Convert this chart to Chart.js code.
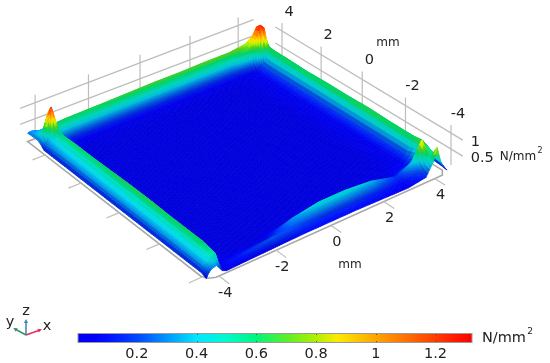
<!DOCTYPE html>
<html>
<head>
<meta charset="utf-8">
<script src="https://cdn.jsdelivr.net/npm/chart.js@4"></script>
<style>
  html, body { margin: 0; padding: 0; background: #fff; }
  #wrap { position: relative; width: 550px; height: 363px; overflow: hidden; filter: blur(0.35px); }
  canvas { position: absolute; left: 0; }
  #surfaceChart { top: 0; }
  #barChart { top: 333px; }
</style>
</head>
<body>
<div id="wrap">
  <canvas id="surfaceChart" width="550" height="363"></canvas>
  <canvas id="barChart" width="550" height="30"></canvas>
</div>
<script>
// axis ticks
const xTicks = [-4, -2, 0, 2, 4];
const yTicks = [-4, -2, 0, 2, 4];
const zTicks = [0.5, 1];
const barTicks = [0.2, 0.4, 0.6, 0.8, 1, 1.2];
const barRange = [0.003, 1.322];

// grid nodes of the surface, mm
const gridX = [-4.4, -4.35, -4.25, -4.15, -4.05, -3.95, -3.85, -3.7, -3.4, -2, -1, 0, 1, 2, 3, 3.7, 4, 4.15, 4.3, 4.42, 4.55];
const gridY = [-4.2, -4, -3.7, -3.4, -3, -2.6, -2, -1, 0, 1, 2, 3, 3.6, 3.9, 4.05, 4.2, 4.4, 4.55, 5];

// contact pressure N/mm2, one row per gridY value
const stress = [
  [.05, .16, .26, .30, .32, .20, .08, .02, .03, .06, .08, .08, .08, .06, .04, .12, .50, .90, .40, .20, .05],
  [.12, .30, .38, .44, .50, .56, .20, .05, .10, .25, .18, .14, .14, .12, .06, .20, .55, .60, .40, .30, .08],
  [.12, .30, .38, .44, .50, .60, .25, .05, .02, .02, .32, .46, .46, .38, .16, .45, .95, .60, .60, .45, .10],
  [.12, .30, .38, .44, .52, .64, .30, .05, .01, .01, .01, .02, .02, .02, .03, .10, .30, .45, .72, .55, .10],
  [.12, .30, .38, .44, .52, .64, .30, .06, .01, .01, .01, .01, .01, .01, .02, .04, .18, .38, .68, .55, .10],
  [.12, .30, .38, .44, .52, .64, .30, .06, .01, .01, .01, .01, .01, .01, .01, .04, .18, .38, .68, .55, .10],
  [.12, .30, .38, .44, .52, .64, .30, .06, .01, .01, .01, .01, .01, .01, .01, .04, .18, .38, .68, .55, .10],
  [.12, .30, .38, .44, .52, .66, .30, .06, .01, .01, .01, .01, .01, .01, .01, .04, .18, .38, .70, .55, .10],
  [.12, .30, .38, .44, .52, .66, .30, .06, .01, .01, .01, .01, .01, .01, .01, .04, .18, .38, .68, .55, .10],
  [.12, .30, .38, .44, .52, .64, .30, .06, .01, .01, .01, .01, .01, .01, .01, .04, .18, .38, .68, .55, .10],
  [.12, .30, .38, .44, .52, .62, .30, .06, .01, .01, .01, .01, .01, .01, .01, .04, .18, .38, .66, .55, .10],
  [.12, .30, .38, .44, .52, .62, .30, .06, .01, .01, .01, .01, .01, .01, .01, .04, .18, .38, .68, .55, .10],
  [.12, .28, .36, .42, .50, .60, .30, .06, .01, .01, .01, .01, .01, .01, .01, .04, .18, .38, .68, .55, .10],
  [.12, .26, .34, .40, .48, .62, .30, .06, .03, .03, .03, .03, .03, .03, .03, .05, .20, .40, .70, .55, .10],
  [.12, .24, .34, .44, .80, .70, .32, .14, .12, .12, .12, .12, .12, .12, .12, .20, .60, 1.00, .78, .58, .10],
  [.20, .30, .55, .90, 1.30, 1.00, .70, .36, .32, .32, .32, .32, .32, .32, .34, .70, 1.00, 1.32, 1.20, .60, .10],
  [.28, .38, .50, .70, 1.00, .85, .66, .62, .64, .66, .68, .70, .70, .72, .72, .80, 1.00, 1.20, 1.10, .60, .12],
  [.28, .34, .38, .40, .50, .50, .48, .48, .48, .50, .50, .50, .50, .50, .50, .52, .60, .70, .65, .45, .10],
  [.26, .28, .28, .26, .20, .12, .10, .10, .10, .10, .10, .10, .10, .10, .10, .12, .12, .15, .15, .12, .05],
];

// colour table: value, r, g, b
const colourStops = [
  [0, 0, 0, 215], [0.05, 0, 0, 245], [0.1, 0, 15, 255], [0.2, 0, 70, 255], [0.3, 0, 150, 255], [0.4, 0, 230, 255],
  [0.5, 0, 250, 205], [0.6, 0, 245, 125], [0.7, 90, 240, 40], [0.8, 175, 240, 0], [0.87, 250, 235, 0],
  [1, 255, 165, 0], [1.2, 255, 60, 0], [1.32, 255, 0, 0],
];

// view: floor plane fitted on four known points
const floorX = [-4.4, 4.9];
const floorY = [-4, 4];
const floorCorners = [[202, 277], [451, 165], [282, 63], [45, 155]];
const zPixels = 32;
const wallX = 4.9, wallY = 5.2;
const wallStartX = -4.55, wallStartY = -4.5;
const wallEndX = 4.65, wallEndY = 4.35;
const frameX = [-4.4, 4.5], frameY = [-4.25, 5];
const FONT = '"DejaVu Sans", sans-serif';
const INK = "#222";

function makeHomography(p) {
  const [p0, p1, p2, p3] = p;
  const dx1 = p1[0] - p2[0], dx2 = p3[0] - p2[0], sx = p0[0] - p1[0] + p2[0] - p3[0];
  const dy1 = p1[1] - p2[1], dy2 = p3[1] - p2[1], sy = p0[1] - p1[1] + p2[1] - p3[1];
  const den = dx1 * dy2 - dx2 * dy1;
  const g = (sx * dy2 - dx2 * sy) / den;
  const h = (dx1 * sy - sx * dy1) / den;
  return {
    a: p1[0] - p0[0] + g * p1[0], b: p3[0] - p0[0] + h * p3[0], c: p0[0],
    d: p1[1] - p0[1] + g * p1[1], e: p3[1] - p0[1] + h * p3[1], f: p0[1],
    g, h,
  };
}
const H = makeHomography(floorCorners);

function project(x, y, z) {
  const u = (x - floorX[0]) / (floorX[1] - floorX[0]);
  const v = (y - floorY[0]) / (floorY[1] - floorY[0]);
  const w = H.g * u + H.h * v + 1;
  return {
    x: (H.a * u + H.b * v + H.c) / w,
    y: (H.d * u + H.e * v + H.f) / w - z * zPixels,
  };
}

function colourFor(v, shade) {
  let i = 0;
  while (i < colourStops.length - 2 && v > colourStops[i + 1][0]) i++;
  const a = colourStops[i], b = colourStops[i + 1];
  const t = Math.max(0, Math.min(1, (v - a[0]) / (b[0] - a[0])));
  const c = [1, 2, 3].map((k) => Math.round((a[k] + (b[k] - a[k]) * t) * shade));
  return `rgb(${c[0]},${c[1]},${c[2]})`;
}

function lineSet(points, colour, width) {
  return { data: points, borderColor: colour, borderWidth: width, pointRadius: 0, showLine: true, fill: false };
}

const GRID = "#bdbdbd";
const datasets = [];

// surface nodes, painted by the plugin
const surfaceNodes = [];
gridY.forEach((y, r) => gridX.forEach((x, c) => surfaceNodes.push(project(x, y, stress[r][c]))));
datasets.push({ label: "surface", data: surfaceNodes, pointRadius: 0, showLine: false });

// wall lines
zTicks.forEach((z) => {
  datasets.push(lineSet([project(wallStartX, wallY, z), project(wallEndX, wallY, z)], GRID, 1.3));
  datasets.push(lineSet([project(wallX, wallEndY, z), project(wallX, wallStartY, z)], GRID, 1.3));
});
xTicks.forEach((x) => datasets.push(lineSet([project(x, wallY, 0), project(x, wallY, 1.25)], GRID, 1.2)));
yTicks.forEach((y) => datasets.push(lineSet([project(wallX, y, 0), project(wallX, y, 1.25)], GRID, 1.2)));

// floor ticks
xTicks.forEach((x) => datasets.push(lineSet([project(x, frameY[0], 0), project(x, frameY[0] - 0.45, 0)], GRID, 1.2)));
yTicks.forEach((y) => datasets.push(lineSet([project(frameX[0], y, 0), project(frameX[0] - 0.45, y, 0)], GRID, 1.2)));

// floor frame
datasets.push(lineSet([
  project(frameX[0] + 0.3, frameY[0], 0), project(frameX[1] - 0.2, frameY[0], 0), project(frameX[1], frameY[0] + 0.2, 0),
  project(frameX[1], frameY[1], 0), project(frameX[0], frameY[1], 0), project(frameX[0], frameY[0] + 0.3, 0),
  project(frameX[0] + 0.1, frameY[0] + 0.1, 0), project(frameX[0] + 0.3, frameY[0], 0),
], "#a8a8a8", 1.6));

function paintSurface(chart) {
  const nodes = chart.getDatasetMeta(0).data;
  const ctx = chart.ctx;
  const cols = gridX.length;
  ctx.save();
  ctx.lineWidth = 0.8;
  for (let r = gridY.length - 2; r >= 0; r--) {
    for (let c = cols - 2; c >= 0; c--) {
      const p00 = nodes[r * cols + c], p10 = nodes[r * cols + c + 1];
      const p01 = nodes[(r + 1) * cols + c], p11 = nodes[(r + 1) * cols + c + 1];
      const v00 = stress[r][c], v10 = stress[r][c + 1], v01 = stress[r + 1][c], v11 = stress[r + 1][c + 1];
      const dx = gridX[c + 1] - gridX[c], dy = gridY[r + 1] - gridY[r];
      const nx = Math.max(2, Math.ceil(Math.max(Math.abs(p10.x - p00.x), Math.abs(p11.x - p01.x)) / 2));
      const ny = Math.max(2, Math.ceil(Math.max(Math.abs(p01.y - p00.y), Math.abs(p11.y - p10.y)) / 2));
      const at = (i, j) => {
        const s = i / nx, t = j / ny;
        return {
          x: (1 - s) * (1 - t) * p00.x + s * (1 - t) * p10.x + (1 - s) * t * p01.x + s * t * p11.x,
          y: (1 - s) * (1 - t) * p00.y + s * (1 - t) * p10.y + (1 - s) * t * p01.y + s * t * p11.y,
        };
      };
      for (let j = ny - 1; j >= 0; j--) {
        for (let i = nx - 1; i >= 0; i--) {
          const s = (i + 0.5) / nx, t = (j + 0.5) / ny;
          const v = (1 - s) * (1 - t) * v00 + s * (1 - t) * v10 + (1 - s) * t * v01 + s * t * v11;
          // steep faces come out a bit darker, like the lit surface in the original
          const gx = 1.3 * ((v10 - v00) * (1 - t) + (v11 - v01) * t) / dx;
          const gy = 1.3 * ((v01 - v00) * (1 - s) + (v11 - v10) * s) / dy;
          const nz = 1 / Math.sqrt(1 + gx * gx + gy * gy);
          const shade = v > 0.75 ? 1 : Math.max(0.86, 0.7 + 0.3 * nz);
          const a = at(i, j), b = at(i + 1, j), d = at(i + 1, j + 1), e = at(i, j + 1);
          const col = colourFor(v, shade);
          ctx.fillStyle = col;
          ctx.strokeStyle = col;
          ctx.beginPath();
          ctx.moveTo(a.x, a.y);
          ctx.lineTo(b.x, b.y);
          ctx.lineTo(d.x, d.y);
          ctx.lineTo(e.x, e.y);
          ctx.closePath();
          ctx.fill();
          ctx.stroke();
        }
      }
    }
  }
  ctx.restore();
}

function paintTriad(ctx) {
  const arrow = (x2, y2, col) => {
    const ang = Math.atan2(y2 - 335, x2 - 26);
    ctx.strokeStyle = col;
    ctx.fillStyle = col;
    ctx.lineWidth = 1.5;
    ctx.beginPath();
    ctx.moveTo(26, 335);
    ctx.lineTo(x2, y2);
    ctx.stroke();
    ctx.beginPath();
    ctx.moveTo(x2 + 2 * Math.cos(ang), y2 + 2 * Math.sin(ang));
    ctx.lineTo(x2 - 2 * Math.cos(ang) - 2 * Math.sin(ang), y2 - 2 * Math.sin(ang) + 2 * Math.cos(ang));
    ctx.lineTo(x2 - 2 * Math.cos(ang) + 2 * Math.sin(ang), y2 - 2 * Math.sin(ang) - 2 * Math.cos(ang));
    ctx.closePath();
    ctx.fill();
  };
  arrow(26, 321, "#3b83b5");
  arrow(40, 330, "#e0305c");
  arrow(15, 329, "#2d9a62");
}

const labelPlugin = {
  id: "labels",
  afterDatasetsDraw(chart) {
    paintSurface(chart);
    const ctx = chart.ctx;
    const sx = chart.scales.x, sy = chart.scales.y;
    const put = (text, px, py, size, align) => {
      ctx.font = `${size}px ${FONT}`;
      ctx.fillStyle = INK;
      ctx.textAlign = align || "center";
      ctx.textBaseline = "middle";
      ctx.fillText(text, sx.getPixelForValue(px), sy.getPixelForValue(py));
    };
    xTicks.forEach((x) => {
      const p = project(x, frameY[0], 0);
      put(String(x), p.x + 6, p.y + 17, 14.5);
    });
    yTicks.forEach((y) => {
      const p = project(wallX, y, 1.25);
      put(String(y), p.x + 7, p.y - 11, 14.5);
    });
    zTicks.forEach((z) => {
      const p = project(wallX, wallStartY, z);
      put(String(z), p.x + 8, p.y + 2, 14.5, "left");
    });
    put("mm", 388, 43, 12);
    put("mm", 350, 265, 12);
    put("N/mm", 518, 157, 12);
    put("2", 540, 151, 8);
    put("N/mm", 504, 338, 14.5);
    put("2", 530, 332, 9);
    put("z", 26, 311, 14.5);
    put("x", 47, 326, 14.5);
    put("y", 10, 322, 14.5);
    paintTriad(ctx);
  },
};

new Chart(document.getElementById("surfaceChart"), {
  type: "scatter",
  data: { datasets },
  options: {
    responsive: false,
    animation: false,
    layout: { padding: 0 },
    plugins: { legend: { display: false }, tooltip: { enabled: false } },
    scales: {
      x: { type: "linear", min: 0, max: 550, display: false },
      y: { type: "linear", min: 0, max: 363, reverse: true, display: false },
    },
  },
  plugins: [labelPlugin],
});

// colour bar
const barEdges = {
  id: "barEdges",
  afterDatasetsDraw(chart) {
    const { ctx, chartArea } = chart;
    ctx.save();
    ctx.strokeStyle = "rgba(60,60,60,0.8)";
    ctx.lineWidth = 1;
    barTicks.forEach((t) => {
      const x = Math.round(chart.scales.x.getPixelForValue(t)) + 0.5;
      ctx.beginPath();
      ctx.moveTo(x, chartArea.top);
      ctx.lineTo(x, chartArea.top + 2);
      ctx.moveTo(x, chartArea.bottom - 2);
      ctx.lineTo(x, chartArea.bottom);
      ctx.stroke();
    });
    ctx.strokeStyle = "#9a9a9a";
    ctx.strokeRect(chartArea.left, chartArea.top + 0.5, chartArea.right - chartArea.left, chartArea.bottom - chartArea.top - 1);
    ctx.restore();
  },
};

function barGradient(context) {
  const { ctx, chartArea } = context.chart;
  if (!chartArea) return "#00f";
  const g = ctx.createLinearGradient(chartArea.left, 0, chartArea.right, 0);
  const span = barRange[1] - barRange[0];
  colourStops.forEach((s) => {
    const t = (s[0] - barRange[0]) / span;
    if (t >= 0 && t <= 1) g.addColorStop(t, `rgb(${s[1]},${s[2]},${s[3]})`);
  });
  return g;
}

new Chart(document.getElementById("barChart"), {
  type: "bar",
  data: {
    labels: [""],
    datasets: [{ data: [barRange], backgroundColor: barGradient, barPercentage: 1, categoryPercentage: 1, borderWidth: 0, borderSkipped: false }],
  },
  options: {
    indexAxis: "y",
    responsive: false,
    animation: false,
    layout: { padding: { left: 78, right: 78, top: 0, bottom: 0 } },
    plugins: { legend: { display: false }, tooltip: { enabled: false } },
    scales: {
      x: {
        type: "linear",
        min: barRange[0],
        max: barRange[1],
        grid: { display: false, drawTicks: false },
        border: { display: false },
        afterFit(scale) { scale.height = 20; },
        afterBuildTicks(scale) { scale.ticks = barTicks.map((value) => ({ value })); },
        ticks: {
          autoSkip: false,
          maxRotation: 0,
          padding: 3,
          color: INK,
          font: { family: "DejaVu Sans", size: 14.5 },
          callback: (v) => String(v),
        },
      },
      y: { display: false },
    },
  },
  plugins: [barEdges],
});
</script>
</body>
</html>
